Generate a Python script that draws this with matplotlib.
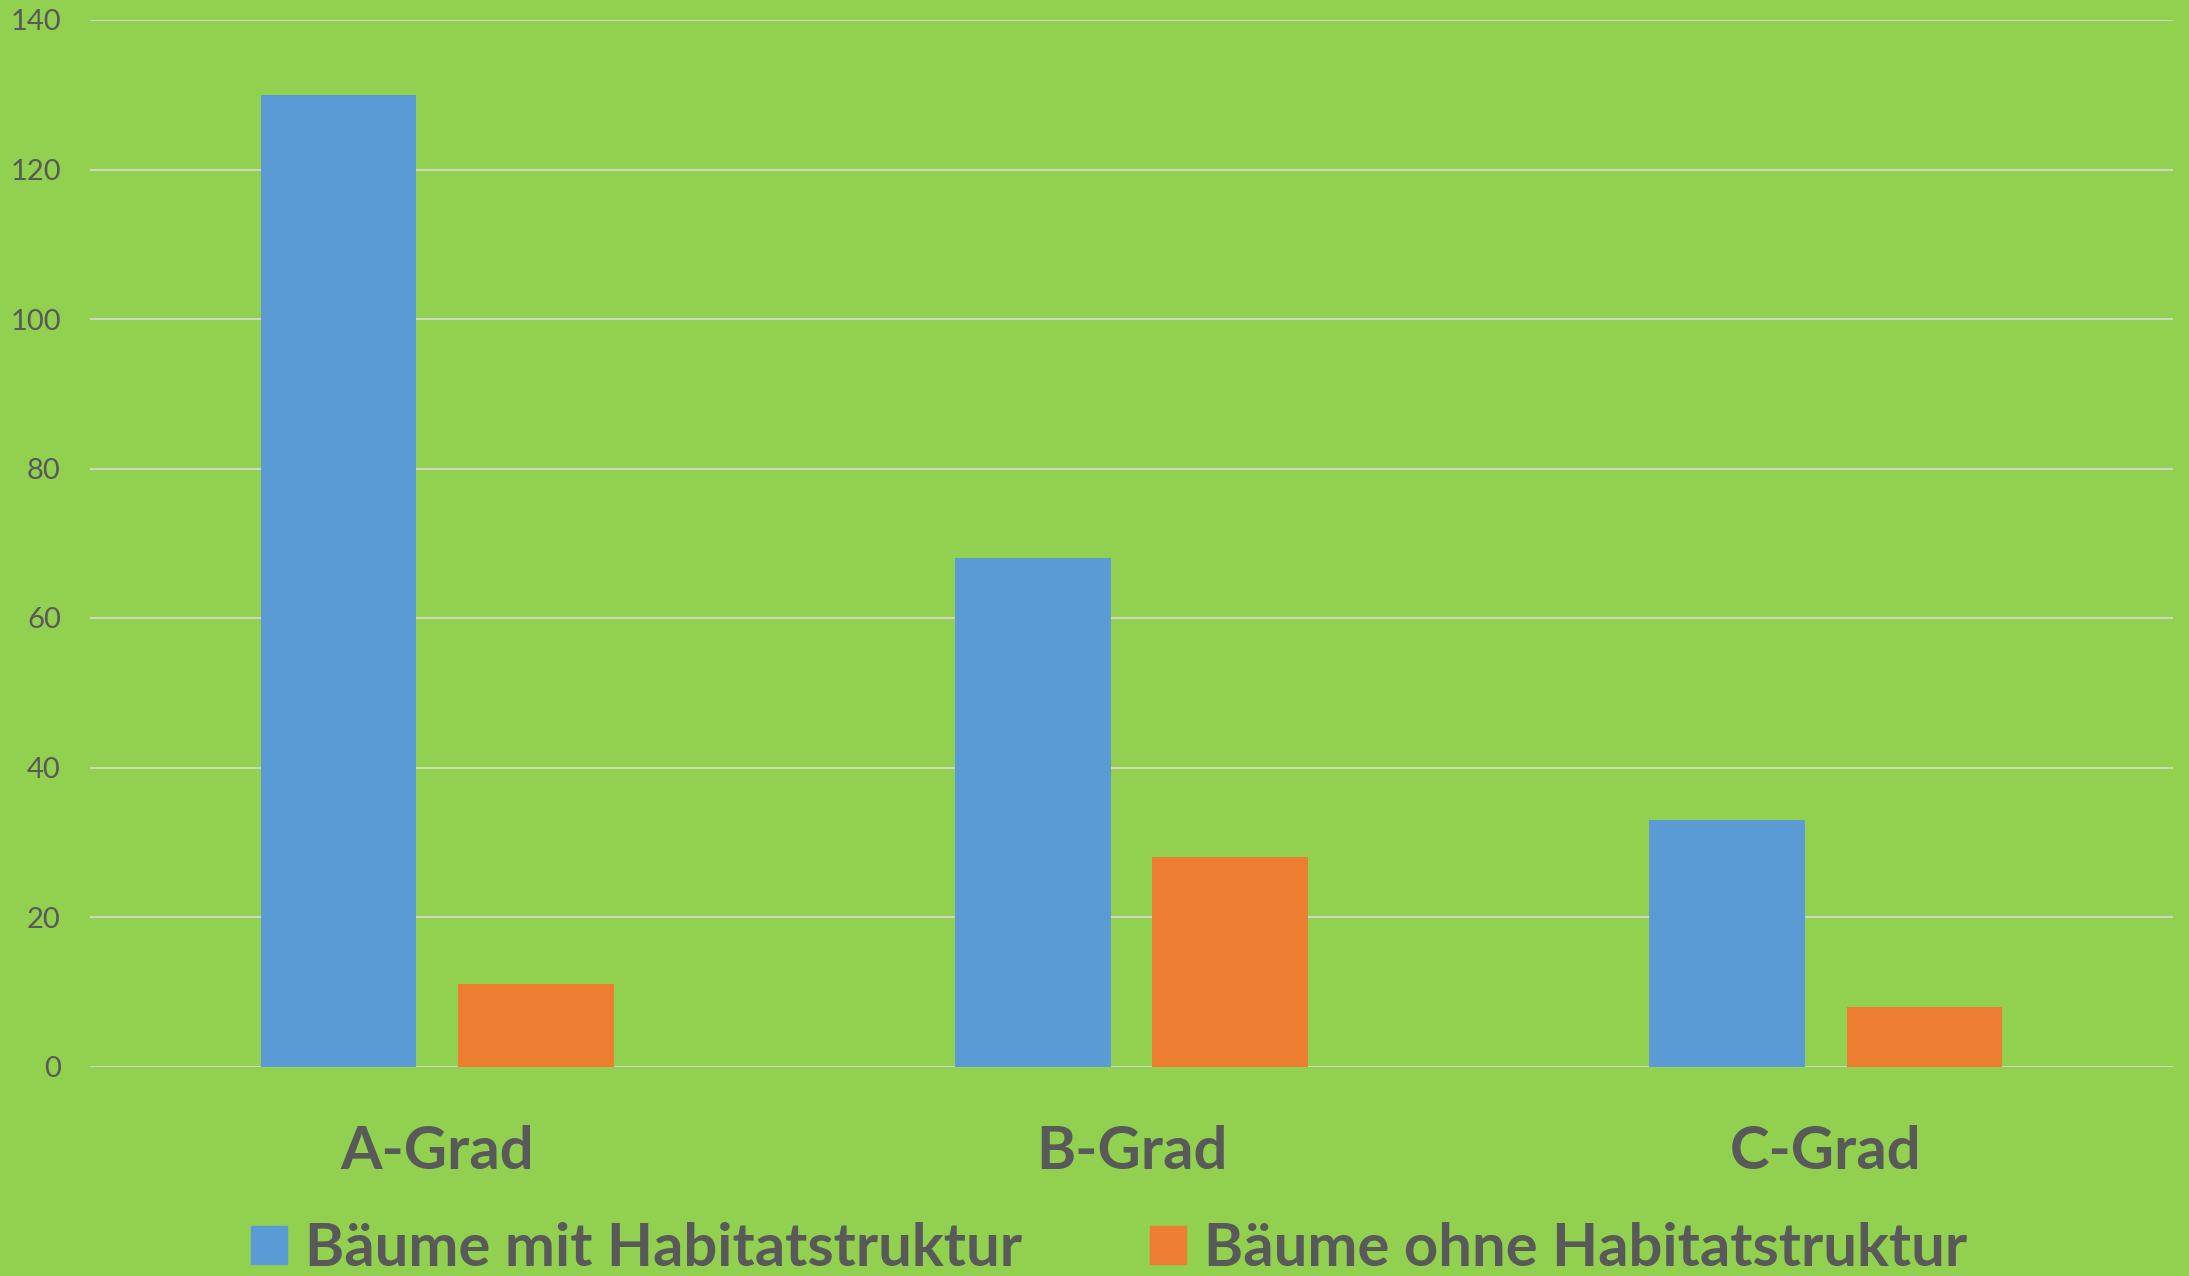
import matplotlib
matplotlib.use("Agg")
import matplotlib.pyplot as plt
import numpy as np
from matplotlib.patches import Patch

categories = ["A-Grad", "B-Grad", "C-Grad"]
mit_habitat = [130, 68, 33]
ohne_habitat = [11, 28, 8]
series_names = ["Bäume mit Habitatstruktur", "Bäume ohne Habitatstruktur"]
y_ticks = [0, 20, 40, 60, 80, 100, 120, 140]

BG = "#92d050"
BLUE = "#5b9bd5"
ORANGE = "#ed7d31"
TEXT = "#595959"

plt.rcParams['font.family'] = ['Lato', 'DejaVu Sans']

fig = plt.figure(figsize=(21.89, 12.76), dpi=100, facecolor=BG)
ax = fig.add_axes([90 / 2189, 209.5 / 1276, 2083 / 2189, 1046.5 / 1276])
ax.set_facecolor(BG)

x = np.arange(len(categories))
w = 0.224
off = 0.142
ax.bar(x - off, mit_habitat, w, color=BLUE, zorder=3)
ax.bar(x + off, ohne_habitat, w, color=ORANGE, zorder=3)

ax.set_xlim(-0.5, 2.5)
ax.set_ylim(0, 140)
ax.set_yticks(y_ticks)
ax.set_xticks(x)
ax.set_xticklabels(categories, fontsize=43, fontweight='bold', color=TEXT)
ax.tick_params(axis='x', length=0, pad=42)
ax.tick_params(axis='y', length=0, pad=21, labelsize=21, labelcolor=TEXT)

ax.yaxis.grid(True, color='#d9d9d9', linewidth=1.2, zorder=0)
ax.set_axisbelow(True)
for s in ax.spines.values():
    s.set_visible(False)

handles = [Patch(color=BLUE), Patch(color=ORANGE)]
fig.legend(handles, series_names, loc='center', bbox_to_anchor=(0.5067, 1 - 1249 / 1276),
           ncol=2, frameon=False, handlelength=0.6, handleheight=0.6,
           handletextpad=0.3, columnspacing=2.15,
           prop={'weight': 'bold', 'size': 43})
for t in fig.legends[0].get_texts():
    t.set_color(TEXT)

fig.savefig("out.png", dpi=100, facecolor=BG)
